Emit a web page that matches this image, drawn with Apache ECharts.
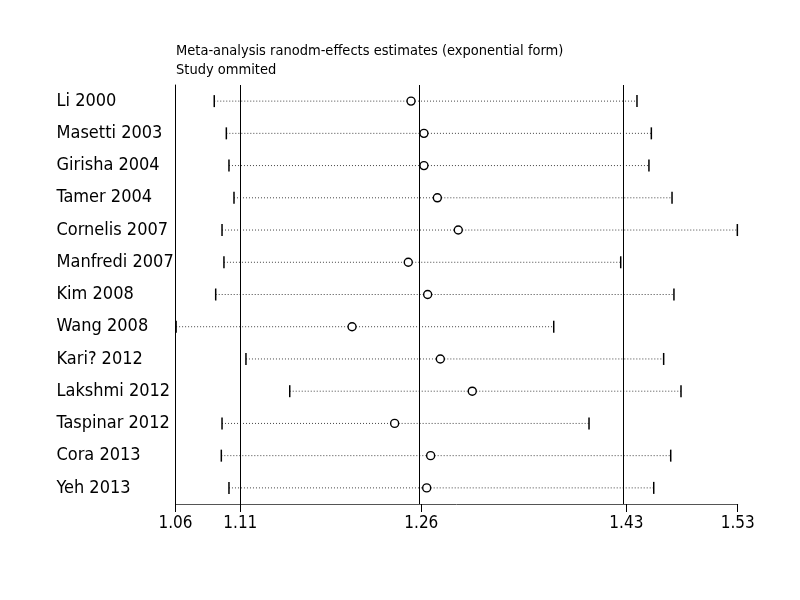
<!DOCTYPE html>
<html>
<head>
<meta charset="utf-8">
<script src="https://cdn.jsdelivr.net/npm/echarts@6/dist/echarts.min.js"></script>
<style>
  html, body { margin: 0; padding: 0; background: #fff; }
  #main { width: 800px; height: 600px; }
</style>
</head>
<body>
<div id="main"></div>
<script>
// studies, top to bottom
const studies = ['Li 2000', 'Masetti 2003', 'Girisha 2004', 'Tamer 2004', 'Cornelis 2007', 'Manfredi 2007',
  'Kim 2008', 'Wang 2008', 'Kari? 2012', 'Lakshmi 2012', 'Taspinar 2012', 'Cora 2013', 'Yeh 2013'];
// estimate with the study left out, and its CI
const estimate = [1.2529, 1.2637, 1.2637, 1.2749, 1.2924, 1.2506, 1.2668, 1.2036, 1.2774, 1.3041, 1.2392, 1.2693, 1.2660];
const lower = [1.0884, 1.0985, 1.1007, 1.1049, 1.0949, 1.0965, 1.0896, 1.0565, 1.1149, 1.1515, 1.0949, 1.0943, 1.1007];
const upper = [1.4418, 1.4538, 1.4518, 1.4711, 1.5257, 1.4282, 1.4727, 1.3722, 1.4641, 1.4786, 1.4017, 1.4700, 1.4558];
// overall: lower CI, estimate, upper CI
const overall = [1.1102, 1.2615, 1.4329];
const axisMin = 1.056, axisMax = 1.526;
const tickValues = [axisMin].concat(overall, [axisMax]);

const fontFam = '"Liberation Sans Narrow", "DejaVu Sans Condensed", sans-serif';

const chart = echarts.init(document.getElementById('main'));

const rows = studies.map((s, i) => [i, lower[i], estimate[i], upper[i]]);

chart.setOption({
  animation: false,
  title: {
    text: 'Meta-analysis ranodm-effects estimates (exponential form)\nStudy ommited',
    left: 171,
    top: 37,
    textStyle: { fontFamily: fontFam, fontSize: 14.5, fontWeight: 'normal', color: '#000', lineHeight: 19 }
  },
  grid: { left: 175.5, right: 62.3, top: 85, bottom: 96 },
  xAxis: {
    type: 'value',
    min: axisMin,
    max: axisMax,
    axisLine: { show: true, lineStyle: { color: '#555', width: 1 } },
    axisTick: { show: true, customValues: tickValues, length: 8, lineStyle: { color: '#000' } },
    axisLabel: {
      customValues: tickValues,
      formatter: v => v.toFixed(2),
      fontFamily: fontFam, fontSize: 17, color: '#000', margin: 11
    },
    splitLine: { show: false }
  },
  yAxis: {
    type: 'category',
    data: studies,
    inverse: true,
    axisLine: { show: true, lineStyle: { color: '#000', width: 1 } },
    axisTick: { show: false },
    axisLabel: { align: 'left', margin: 119, fontFamily: fontFam, fontSize: 18, color: '#000' },
    splitLine: { show: false }
  },
  series: [{
    type: 'custom',
    data: rows,
    encode: { x: [1, 2, 3], y: 0 },
    renderItem: function (params, api) {
      const y = api.value(0);
      const pL = api.coord([api.value(1), y]);
      const pE = api.coord([api.value(2), y]);
      const pU = api.coord([api.value(3), y]);
      const r = 4;
      return {
        type: 'group',
        children: [
          { type: 'line', shape: { x1: pL[0], y1: pL[1], x2: pE[0] - r, y2: pE[1] },
            style: { stroke: '#444', lineWidth: 1, lineDash: [1, 2] } },
          { type: 'line', shape: { x1: pE[0] + r, y1: pE[1], x2: pU[0], y2: pU[1] },
            style: { stroke: '#444', lineWidth: 1, lineDash: [1, 2] } },
          { type: 'line', shape: { x1: pL[0], y1: pL[1] - 6, x2: pL[0], y2: pL[1] + 6 },
            style: { stroke: '#000', lineWidth: 1.5 } },
          { type: 'line', shape: { x1: pU[0], y1: pU[1] - 6, x2: pU[0], y2: pU[1] + 6 },
            style: { stroke: '#000', lineWidth: 1.5 } },
          { type: 'circle', shape: { cx: pE[0], cy: pE[1], r: r },
            style: { fill: '#fff', stroke: '#000', lineWidth: 1.4 } }
        ]
      };
    },
    markLine: {
      silent: true,
      symbol: 'none',
      label: { show: false },
      lineStyle: { color: '#000', type: 'solid', width: 1 },
      data: overall.map(v => ({ xAxis: v }))
    },
    z: 3
  }]
});
</script>
</body>
</html>
